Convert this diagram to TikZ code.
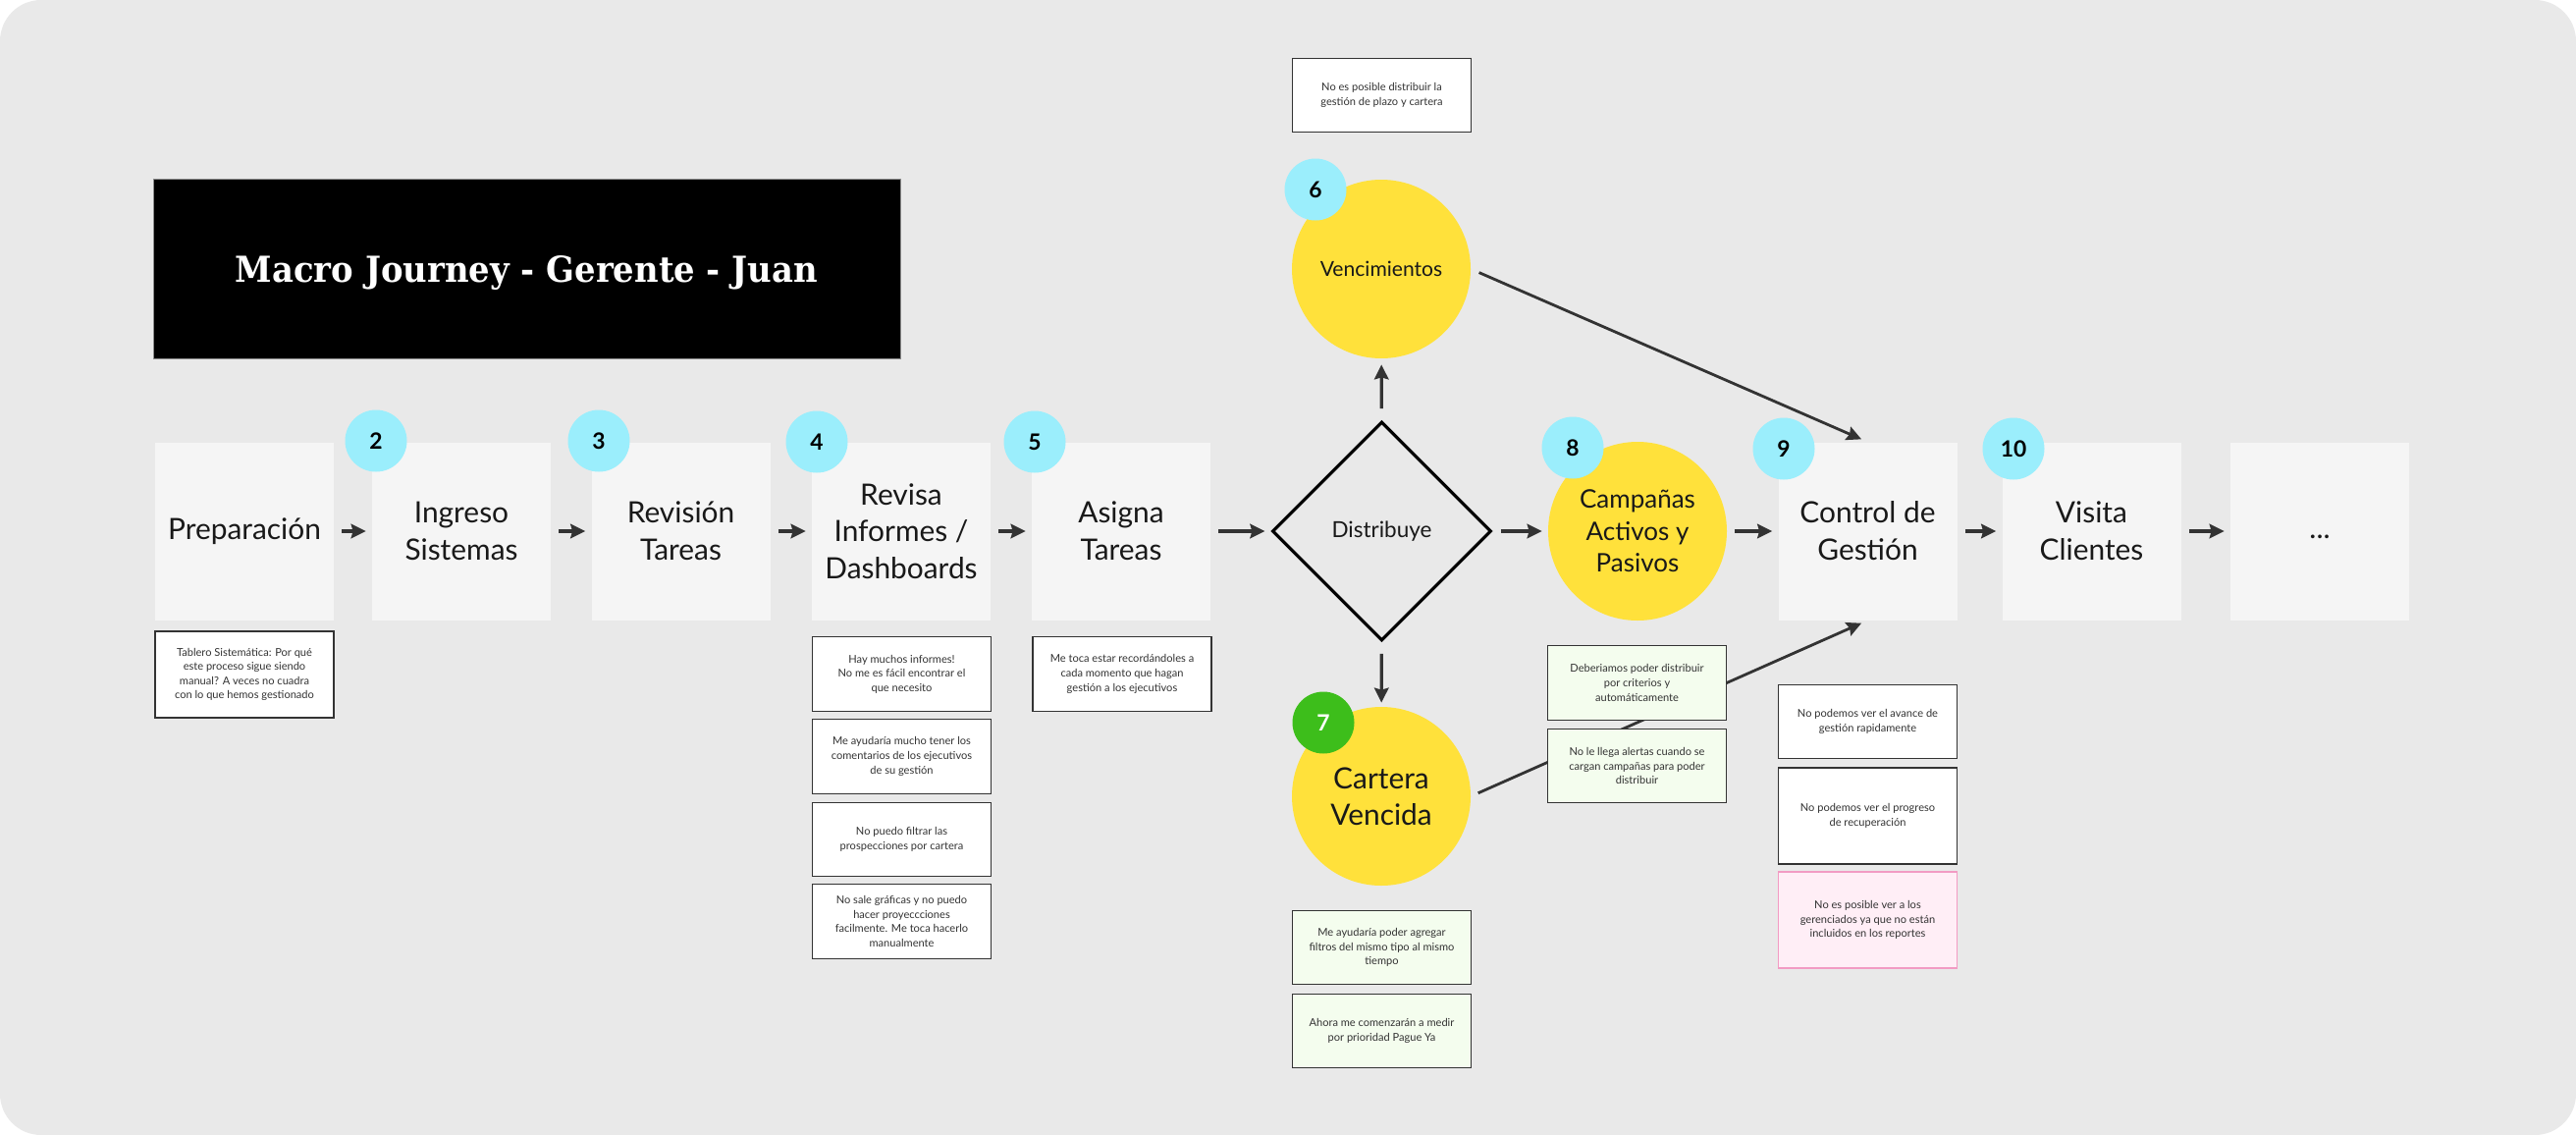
\documentclass[tikz,border=0pt]{standalone}
\usepackage{fontspec}
\usepackage{graphicx}
\setmainfont{Lato}
\newfontfamily\titlefont{DejaVu Serif}
\usetikzlibrary{shapes.geometric,arrows.meta}

\definecolor{bggray}{HTML}{E9E9E9}
\definecolor{stepgray}{HTML}{F5F5F5}
\definecolor{badgecyan}{HTML}{9BEEFC}
\definecolor{journeyyellow}{HTML}{FFE13B}
\definecolor{badgegreen}{HTML}{3DBE1B}
\definecolor{notegreen}{HTML}{F4FDEE}
\definecolor{notepink}{HTML}{FFEEF6}
\definecolor{pinkline}{HTML}{F29BC3}
\definecolor{darkline}{HTML}{333333}

\tikzset{
  stepbox/.style={fill=stepgray, minimum width=36.4mm, minimum height=36.2mm, inner sep=0pt,
    align=center, text=black!90, font=\fontsize{17}{21.5}\selectfont},
  stage/.style={circle, fill=journeyyellow, minimum size=36.4mm, inner sep=0pt,
    align=center, text=black!90, font=\fontsize{17}{21}\selectfont},
  decision/.style={diamond, aspect=1, draw=black, line width=1.8pt, minimum size=44.6mm,
    inner sep=0pt, text=black!90, font=\fontsize{12.8}{15}\selectfont},
  badge/.style={circle, fill=badgecyan, minimum size=12.6mm, inner sep=0pt,
    font=\fontsize{13}{13}\selectfont\bfseries},
  note/.style={draw=darkline, line width=0.7pt, fill=white, minimum width=36.4mm,
    minimum height=15.1mm, inner sep=0pt, align=center, text=darkline,
    font=\fontsize{6.3}{8.3}\selectfont},
  flow/.style={draw=darkline, line width=1.8pt, -{Stealth[length=3mm,width=2.9mm,inset=0.4mm]},
    shorten <=1.6mm, shorten >=1.2mm},
}

\begin{document}
\begin{tikzpicture}[x=0.2mm,y=-0.2mm]
\useasboundingbox (0,0) rectangle (2624,1156);
\fill[white] (0,0) rectangle (2624,1156);
\fill[bggray, rounded corners=8.4mm] (0,0) rectangle (2624,1156);

% title
\node[fill=black, draw=black!45, line width=0.4pt, minimum width=152.2mm, minimum height=36.6mm,
  text depth=0pt, text=white] (title) at (536.5,273.5)
  {\resizebox{118.6mm}{5.4mm}{\titlefont\bfseries Macro Journey - Gerente - Juan}};

% journey steps
\node[stepbox] (s1) at (249,541) {Preparación};
\node[stepbox] (s2) at (470,541) {Ingreso\\Sistemas};
\node[stepbox] (s3) at (693.5,541) {Revisión\\Tareas};
\node[stepbox] (s4) at (918,541) {Revisa\\Informes /\\Dashboards};
\node[stepbox] (s5) at (1142,541) {Asigna\\Tareas};
\node[decision] (dist) at (1407.5,541) {Distribuye};
\node[stage, font=\fontsize{12}{14}\selectfont] (venc) at (1407,274) {Vencimientos};
\node[stage] (cart) at (1407,811) {Cartera\\Vencida};
\node[stage, font=\fontsize{14.8}{18.5}\selectfont] (camp) at (1668,541) {Campañas\\Activos y\\Pasivos};
\node[stepbox] (s9) at (1902.5,541) {Control de\\Gestión};
\node[stepbox] (s10) at (2130.5,541) {Visita\\Clientes};
\node[stepbox] (s11) at (2363,541) {\strut...};

% connectors
\foreach \a/\b in {s1/s2, s2/s3, s3/s4, s4/s5, s5/dist, dist/camp, camp/s9, s9/s10, s10/s11}
  \draw[flow] (\a) -- (\b);
\draw[flow, shorten <=2.4mm, shorten >=1.2mm] (dist) -- (venc);
\draw[flow, shorten <=2.4mm, shorten >=0.8mm] (dist) -- (cart);
\draw[flow, line width=1.6pt, shorten <=1.8mm, shorten >=1.4mm] (venc.east) -- (s9.north);
\draw[flow, line width=1.6pt, shorten <=1.6mm, shorten >=1.4mm] (cart.east) -- (s9.south);

% numbers
\node[badge] (n2) at (383,449) {2};
\node[badge] (n3) at (610,449) {3};
\node[badge] (n4) at (832,450) {4};
\node[badge] (n5) at (1054,450) {5};
\node[badge] (n6) at (1340,193) {6};
\node[badge, fill=badgegreen, text=white] (n7) at (1348,736) {7};
\node[badge] (n8) at (1602,456) {8};
\node[badge] (n9) at (1817,457) {9};
\node[badge] (n10) at (2051,457) {10};

% pain points
\node[note, minimum height=17.6mm] (p1) at (249,687) {Tablero Sistemática: Por qué\\este proceso sigue siendo\\manual? A veces no cuadra\\con lo que hemos gestionado};
\node[note] (r1) at (918.5,686.5) {Hay muchos informes!\\No me es fácil encontrar el\\que necesito};
\node[note] (r2) at (918.5,770.5) {Me ayudaría mucho tener los\\comentarios de los ejecutivos\\de su gestión};
\node[note] (r3) at (918.5,855) {No puedo filtrar las\\prospecciones por cartera};
\node[note] (r4) at (918.5,938.5) {No sale gráficas y no puedo\\hacer proyeccciones\\facilmente. Me toca hacerlo\\manualmente};
\node[note] (a1) at (1143,686.5) {Me toca estar recordándoles a\\cada momento que hagan\\gestión a los ejecutivos};
\node[note] (v1) at (1407.5,97) {No es posible distribuir la\\gestión de plazo y cartera};
\node[note, fill=notegreen] (d1) at (1667.5,695.5) {Deberiamos poder distribuir\\por criterios y\\automáticamente};
\node[note, fill=notegreen] (d2) at (1667.5,780) {No le llega alertas cuando se\\cargan campañas para poder\\distribuir};
\node[note, fill=notegreen] (c1) at (1407.5,965) {Me ayudaría poder agregar\\filtros del mismo tipo al mismo\\tiempo};
\node[note, fill=notegreen] (c2) at (1407.5,1050) {Ahora me comenzarán a medir\\por prioridad Pague Ya};
\node[note] (g1) at (1902.5,735) {No podemos ver el avance de\\gestión rapidamente};
\node[note, minimum height=19.6mm] (g2) at (1902.5,831) {No podemos ver el progreso\\de recuperación};
\node[note, minimum height=19.6mm, draw=pinkline, fill=notepink] (g3) at (1902.5,937) {No es posible ver a los\\gerenciados ya que no están\\incluidos en los reportes};
\end{tikzpicture}
\end{document}
